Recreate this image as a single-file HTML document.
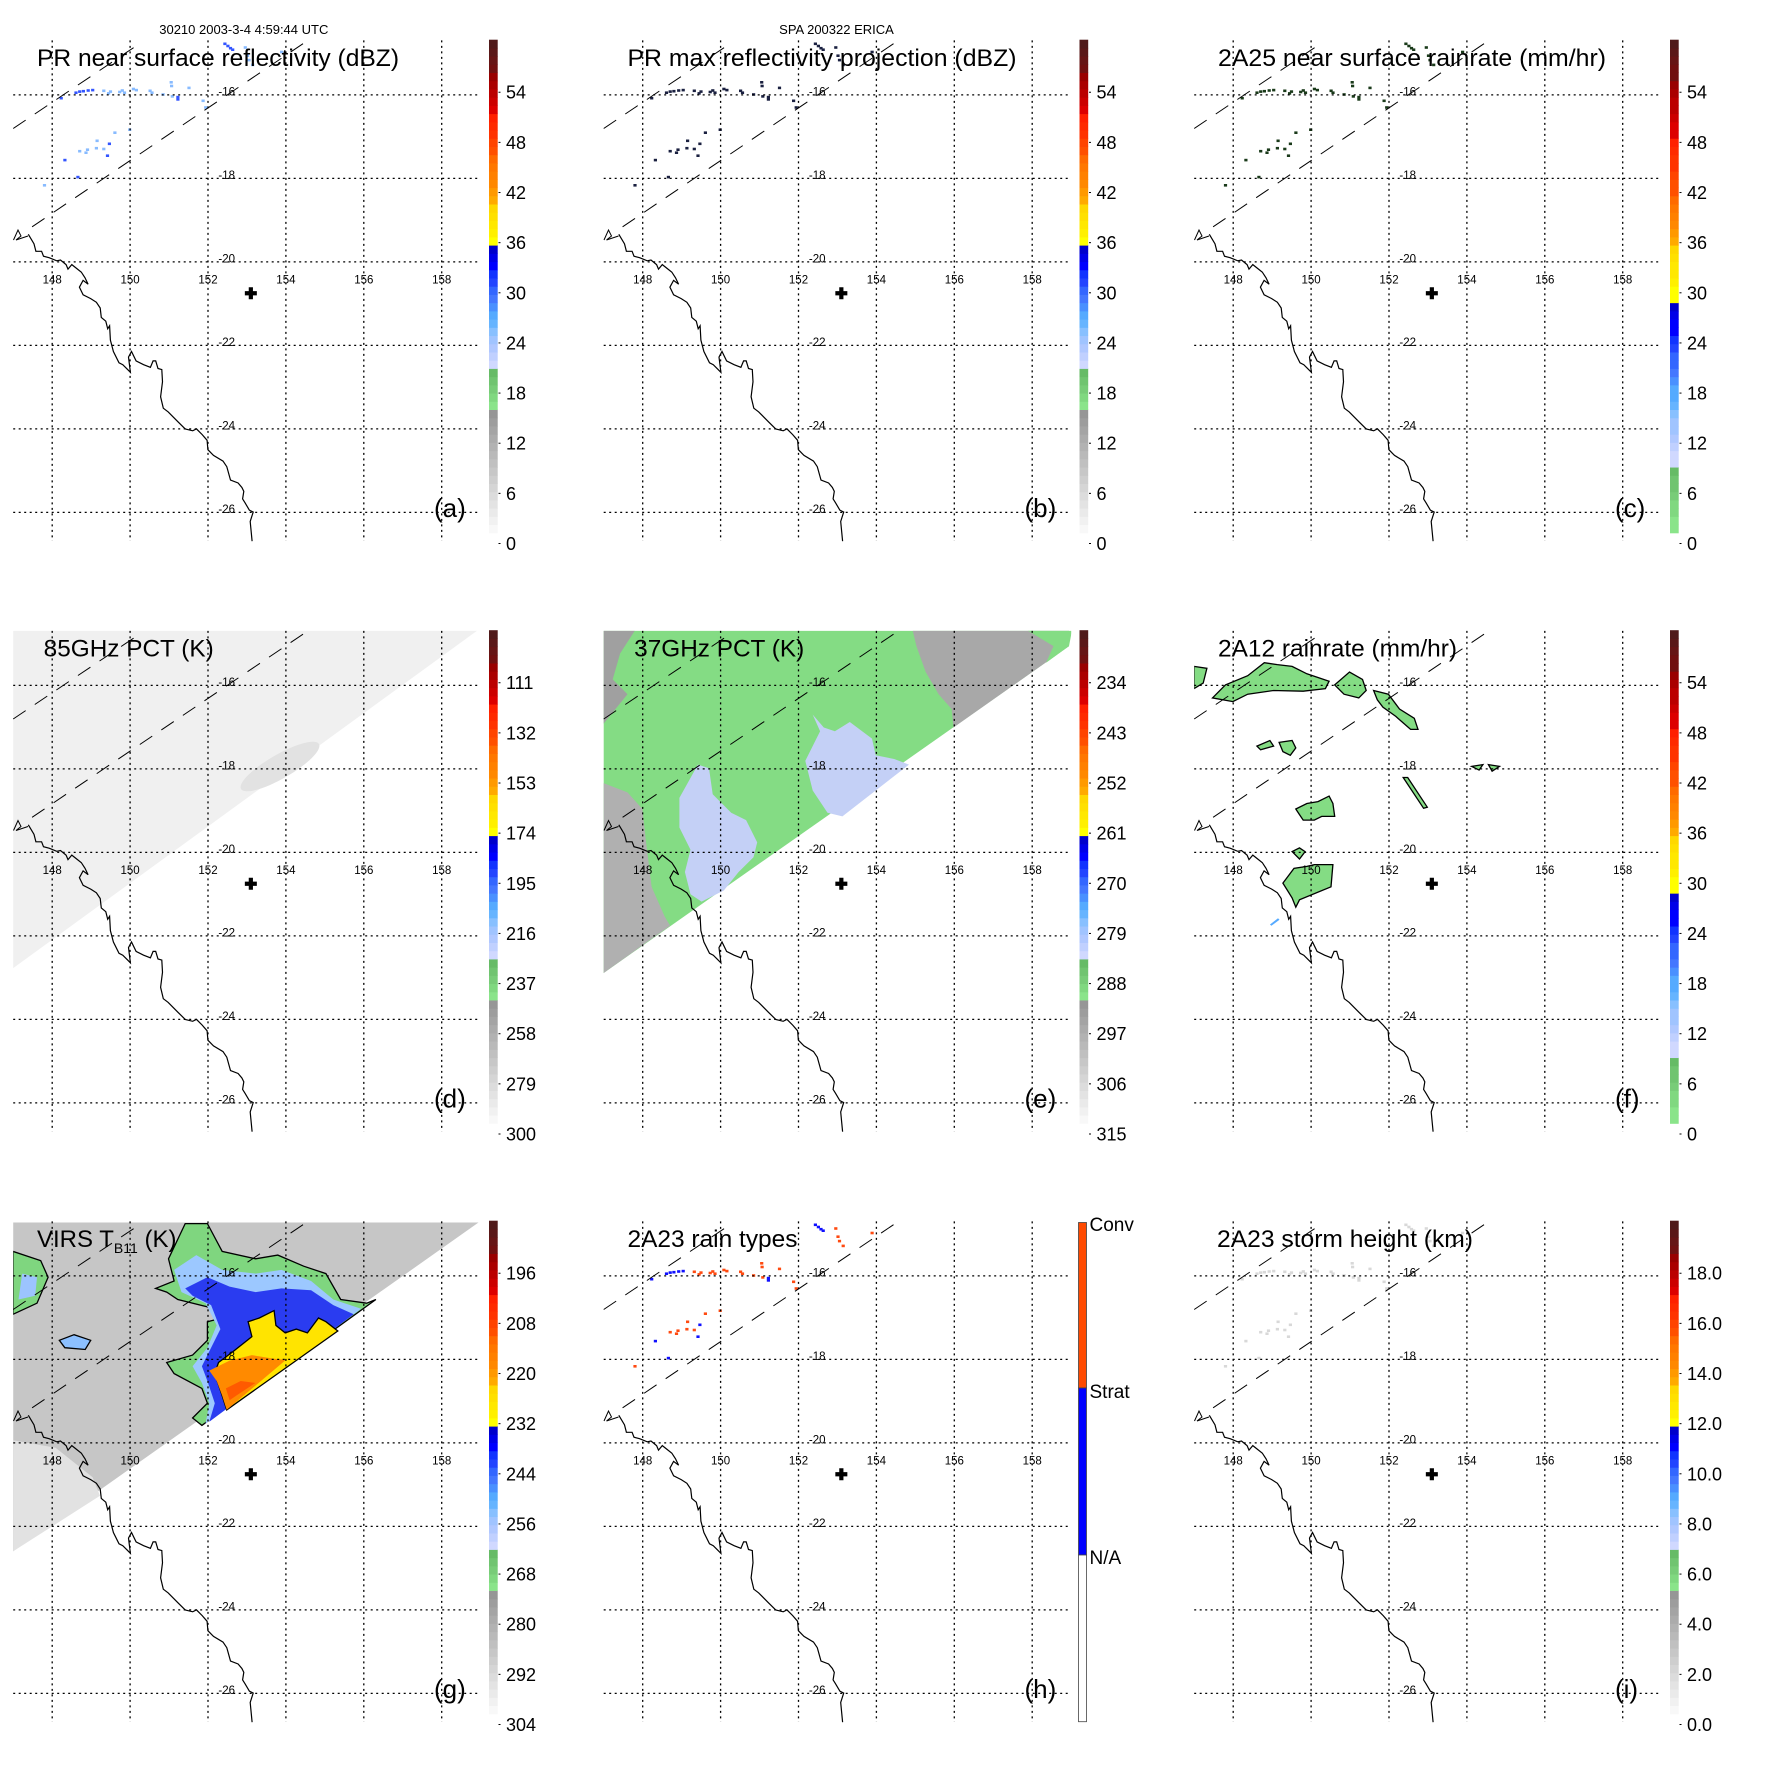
<!DOCTYPE html>
<html><head><meta charset="utf-8">
<style>
html,body{margin:0;padding:0;background:#fff;}
svg{display:block;font-family:"Liberation Sans",Arial,sans-serif;}
</style></head>
<body>
<svg id="fig" xmlns="http://www.w3.org/2000/svg" width="1771" height="1771" viewBox="0 0 1771 1771"></svg>
<script>
// ---- data arrays ----
const lonTicks = [148,150,152,154,156,158];
const latTicks = [-16,-18,-20,-22,-24,-26];
const ticksA = ['0','6','12','18','24','30','36','42','48','54'];
const ticksC = ['0','6','12','18','24','30','36','42','48','54'];
const ticksD = ['300','279','258','237','216','195','174','153','132','111'];
const ticksE = ['315','306','297','288','279','270','261','252','243','234'];
const ticksG = ['304','292','280','268','256','244','232','220','208','196'];
const ticksI = ['0.0','2.0','4.0','6.0','8.0','10.0','12.0','14.0','16.0','18.0'];
const rainTypeLabels = ['Conv','Strat','N/A'];
const stormCenter = [153.1, -20.75];

const NS='http://www.w3.org/2000/svg';
const fig=document.getElementById('fig');
const STEP=590.5;
function lx(lon){return 52.2+(lon-148)*38.95;}
function ly(lat){return 94.9+(-16-lat)*41.75;}
function mk(tag,attrs,parent){const e=document.createElementNS(NS,tag);for(const k in attrs)e.setAttribute(k,attrs[k]);(parent||fig).appendChild(e);return e;}

// palettes
const grayBand=[];for(let i=0;i<15;i++){const g=Math.round(248-i*7);grayBand.push('rgb('+g+','+g+','+g+')');}
const greenBand=['#8ae48a','#80d880','#78cc78','#70c470','#66bb66'];
const blueBand=['#d0d8ff','#c0d0ff','#b0c8ff','#a0c4ff','#88c0ff','#66b4ff','#55aaff','#4a90ff','#4477ff','#3366ff','#2244ff','#1133ff','#0000ff','#0000e8','#0000cc'];
const yelBand=['#ffff00','#fff000','#ffe800','#ffe000','#ffd800'];
const orBand=['#ffaa00','#ff9900','#ff8800','#ff8000','#ff7700','#ff6a00'];
const roBand=['#ff5000','#ff4400','#ff3300','#ff2a00','#ff2000'];
const redBand=['#dd0000','#cc0000','#bb0000','#aa0000','#990000'];
const brBand=['#701010','#661515','#5a1818','#501a1a'];
function rs(a,n){const o=[];for(let i=0;i<n;i++)o.push(a[Math.floor(i*a.length/n)]);return o;}
const palA=[].concat(grayBand,greenBand,blueBand,yelBand,orBand,roBand,redBand,brBand);
const palC=[].concat(rs(greenBand,8),rs(blueBand,20),rs(yelBand,7),rs(orBand,6),rs(roBand,7),rs(redBand,7),rs(brBand,5));

// coastline (reference units /2.646)
const coastRaw=[[75,620],[90,645],[95,665],[110,665],[115,678],[130,682],[150,690],[160,688],[175,700],[180,712],[190,700],[200,708],[215,720],[225,735],[233,752],[220,742],[210,760],[220,780],[240,790],[255,800],[265,815],[268,840],[280,850],[285,870],[290,862],[292,900],[300,930],[315,960],[325,965],[345,985],[340,945],[348,930],[360,955],[380,965],[398,972],[405,955],[412,955],[418,975],[428,978],[430,1010],[425,1050],[432,1080],[445,1090],[470,1115],[490,1135],[510,1140],[520,1135],[535,1150],[548,1165],[550,1190],[565,1205],[590,1220],[600,1235],[610,1270],[630,1278],[640,1290],[645,1300],[642,1320],[648,1330],[660,1350],[670,1355],[662,1380],[665,1410],[667,1432]];
const Z1=2.646,Z=2.70;

// dots (ref units /2.70): [x,y,type] type 0=strat-like 1=conv-like
const dots=[[607,118,0],[615,124,0],[622,130,0],[628,134,0],[662,128,1],[668,150,1],[672,162,1],[682,175,1],[760,140,1],
[165,265,0],[205,250,0],[215,247,0],[225,246,0],[238,244,0],[250,243,0],[280,245,1],[293,252,1],[298,247,1],[323,248,1],[330,244,1],[336,250,1],[360,240,1],[368,243,1],[405,245,1],[410,250,1],[440,255,1],[462,222,1],[463,232,1],[465,260,1],[480,262,0],[480,268,0],[510,237,1],[548,272,1],[555,290,1],
[350,350,1],[310,358,1],[262,380,1],[295,388,0],[215,408,1],[232,412,1],[236,404,1],[260,400,1],[280,402,1],[290,420,0],[175,432,0],[210,478,0],[120,500,1]];

const panels=[
 {k:'a',c:0,r:0,title:'PR near surface reflectivity (dBZ)',tx:37,tw:362,ticks:ticksA,pal:palA},
 {k:'b',c:1,r:0,title:'PR max reflectivity projection (dBZ)',tx:37,tw:389,ticks:ticksA,pal:palA},
 {k:'c',c:2,r:0,title:'2A25 near surface rainrate (mm/hr)',tx:37,tw:388,ticks:ticksC,pal:palC},
 {k:'d',c:0,r:1,title:'85GHz PCT (K)',tx:43.7,tw:170,ticks:ticksD,pal:palA},
 {k:'e',c:1,r:1,title:'37GHz PCT (K)',tx:43.7,tw:170,ticks:ticksE,pal:palA},
 {k:'f',c:2,r:1,title:'2A12 rainrate (mm/hr)',tx:37,tw:239,ticks:ticksC,pal:palC},
 {k:'g',c:0,r:2,title:null,ticks:ticksG,pal:palA},
 {k:'h',c:1,r:2,title:'2A23 rain types',tx:37,tw:170,ticks:null,pal:null},
 {k:'i',c:2,r:2,title:'2A23 storm height (km)',tx:36,tw:256,ticks:ticksI,pal:palA}
];

function poly(g,pts,fill,stroke,name){
  const p=mk('polygon',{points:pts.map(q=>(q[0]/Z).toFixed(1)+','+(q[1]/Z).toFixed(1)).join(' '),fill:fill,stroke:stroke||'none','stroke-width':1.3},g);
  
  
  return p;
}

panels.forEach(P=>{
  const g=mk('g',{transform:'translate('+(P.c*STEP)+','+(P.r*STEP)+')'});
  
  
  const cp=mk('clipPath',{id:'clip-'+P.k},g);
  mk('rect',{x:13.2,y:40.4,width:467.5,height:500.6},cp);
  const data=mk('g',{'clip-path':'url(#clip-'+P.k+')'},g);
  
  

  if(P.k==='d'){
    poly(data,[[35,108],[1300,108],[1300,100],[35,1020]],'#f0f0f0',null,'swath');
    const e=mk('ellipse',{cx:280,cy:176,rx:45,ry:12,fill:'#e2e2e2',transform:'rotate(-30 280 176)'},data);
    
    
  }
  if(P.k==='e'){
    poly(data,[[35,108],[1300,108],[1292,150],[35,1033]],'#84dc84',null,'swath');
    poly(data,[[870,108],[1292,108],[1292,150],[980,370],[975,320],[940,280],[905,220],[880,150]],'#a8a8a8',null,'gray-ocean-region');
    poly(data,[[1180,108],[1292,108],[1292,150],[1230,195],[1250,150]],'#84dc84',null,'green-patch');
    poly(data,[[35,520],[100,545],[140,590],[150,680],[165,800],[200,880],[215,905],[35,1033]],'#b0b0b0',null,'gray-land-region');
    poly(data,[[35,108],[120,108],[80,170],[60,240],[100,280],[35,360]],'#a0a0a0',null,'gray-nw-region');
    poly(data,[[600,335],[620,380],[580,460],[600,540],[640,600],[680,610],[860,470],[820,455],[770,445],[760,400],[700,355],[660,380],[630,370]],'#c4d0f6',null,'cold-region-1');
    poly(data,[[240,560],[290,470],[320,480],[330,550],[380,600],[420,620],[450,680],[440,720],[400,760],[360,810],[300,840],[270,820],[255,760],[270,700],[240,640]],'#c4d0f6',null,'cold-region-2');
  }
  if(P.k==='g'){
    poly(data,[[35,112],[1300,112],[1292,112],[35,1000]],'#c6c6c6',null,'swath');
    poly(data,[[35,700],[150,720],[250,800],[270,850],[35,1000]],'#e2e2e2',null,'warm-land');
    poly(data,[[35,190],[110,215],[130,260],[100,330],[35,360]],'#7fd67f','#000','cloud-nw');
    poly(data,[[60,250],[100,260],[95,310],[50,320]],'#9cc4ff',null,'cloud-nw-core');
    poly(data,[[160,430],[200,415],[245,430],[230,455],[175,450]],'#8cc0ff','#000','cloud-w');
    poly(data,[[455,210],[500,115],[560,115],[600,190],[690,210],[750,200],[820,230],[880,250],[920,320],[990,330],[1015,320],[545,660],[520,640],[560,600],[545,560],[470,520],[450,490],[520,470],[560,430],[560,380],[600,370],[560,340],[480,320],[450,300],[420,290],[470,270]],'#7fd67f','#000','cloud-green');
    poly(data,[[470,240],[530,200],[600,240],[690,250],[760,240],[840,270],[900,320],[975,345],[555,655],[565,600],[545,545],[520,500],[560,450],[585,390],[555,330],[490,300]],'#9cc8ff',null,'cloud-lightblue');
    poly(data,[[500,290],[560,260],[620,285],[690,300],[760,290],[840,295],[900,335],[955,360],[565,650],[580,600],[560,540],[545,500],[570,450],[595,400],[570,335],[520,310]],'#2a3cf0',null,'cloud-blue');
    poly(data,[[590,490],[630,460],[680,420],[670,380],[700,370],[740,350],[745,390],[770,410],[800,400],[830,410],[860,370],[880,380],[912,405],[612,618],[600,580],[580,520]],'#ffe400','#000','cloud-yellow');
    poly(data,[[565,512],[620,485],[680,470],[740,480],[772,483],[612,618],[600,580],[585,540]],'#ff8a00',null,'cloud-orange');
    poly(data,[[610,560],[650,540],[690,545],[640,578],[620,592]],'#ff5a00',null,'cloud-red');
  }
  if(P.k==='f'){
    const fs=[
      [[85,290],[120,255],[180,230],[225,195],[260,200],[300,205],[340,225],[400,245],[390,265],[330,272],[250,270],[180,280],[140,300]],
      [[35,205],[70,210],[60,250],[35,265]],
      [[415,255],[455,220],[490,240],[500,270],[480,290],[440,280]],
      [[520,270],[560,280],[590,320],[630,345],[640,375],[620,375],[580,340],[545,315],[530,295]],
      [[205,420],[240,405],[250,420],[215,430]],
      [[265,410],[300,405],[310,425],[295,445],[275,435]],
      [[310,590],[340,575],[370,570],[400,555],[410,575],[415,610],[380,610],[360,620],[330,620],[320,605]],
      [[300,705],[320,695],[335,705],[320,725]],
      [[275,790],[305,750],[340,745],[360,740],[410,740],[405,800],[320,835],[310,855],[300,830]],
      [[785,475],[815,470],[805,485]],[[830,470],[860,475],[840,488]],
      [[600,505],[612,505],[665,585],[655,588]]
    ];
    fs.forEach((s,i)=>poly(data,s,'#84dc84','#000','rain-area-'+i));
    poly(data,[[240,902],[262,885],[266,889],[244,905]],'#55aaff',null,'rain-light');
  }
  if(['a','b','c','h','i'].includes(P.k)){
    dots.forEach(d=>{
      let col;
      if(P.k==='a')col=d[2]?'#88bbff':'#3355ff';
      else if(P.k==='b')col='#1a2040';
      else if(P.k==='c')col='#1a3a1a';
      else if(P.k==='h')col=d[2]?'#ff4a10':'#1010ff';
      else col='#d8d8d8';
      const r=mk('rect',{x:(d[0]/Z-1.5).toFixed(1),y:(d[1]/Z-1.2).toFixed(1),width:3.2,height:2.6,fill:col},data);
      
      
    });
  }

  // grid
  lonTicks.forEach(v=>{
    const l=mk('line',{x1:lx(v),x2:lx(v),y1:40.4,y2:541,stroke:'#000','stroke-width':1.3,'stroke-dasharray':'2,3.5'},g);
    
    
    const t=mk('text',{x:lx(v),y:283.5,'font-size':11.5,'text-anchor':'middle',fill:'#000'},g);
    t.textContent=String(v);
    
    
  });
  latTicks.forEach(v=>{
    const l=mk('line',{x1:13.2,x2:480.7,y1:ly(v),y2:ly(v),stroke:'#000','stroke-width':1.3,'stroke-dasharray':'2,3.5'},g);
    
    
    const t=mk('text',{x:218.4,y:ly(v)+0.5,'font-size':11.5,fill:'#000'},g);
    t.textContent=String(v);
    
    
  });
  // coast
  const cst=mk('polyline',{points:coastRaw.map(q=>(q[0]/Z1).toFixed(1)+','+(q[1]/Z1).toFixed(1)).join(' '),fill:'none',stroke:'#000','stroke-width':1.2},g);
  
  
  const cx=mk('polyline',{points:'13.5,240 18,230 21,236 16,240 28,236',fill:'none',stroke:'#000','stroke-width':1},g);
  
  
  // swath dashed edges
  const d1=mk('line',{x1:13.2,y1:128.5,x2:142,y2:42,stroke:'#000','stroke-width':1,'stroke-dasharray':'15,11'},g);
  
  
  const d2=mk('line',{x1:32.1,y1:226.8,x2:307,y2:41,stroke:'#000','stroke-width':1,'stroke-dasharray':'15,11'},g);
  
  
  // storm center cross
  const sx=lx(stormCenter[0]), sy=ly(stormCenter[1]);
  const cr=mk('path',{d:'M'+(sx-6)+' '+sy+'h12M'+sx+' '+(sy-6)+'v12',stroke:'#000','stroke-width':4.2,fill:'none'},g);
  
  

  // title
  if(P.title){
    const t=mk('text',{x:P.tx,y:66.1,'font-size':24,fill:'#000',textLength:P.tw,lengthAdjust:'spacingAndGlyphs'},g);
    t.textContent=P.title;
    
    
  } else {
    const t=mk('text',{x:37,y:66.1,'font-size':24,fill:'#000'},g);
    
    
    t.appendChild(document.createTextNode('VIRS T'));
    const s=mk('tspan',{'font-size':14,dy:6},t);s.textContent='B11';
    const s2=mk('tspan',{dy:-6},t);s2.textContent=' (K)';
  }
  // panel letter
  const pl=mk('text',{x:434,y:517,'font-size':26,fill:'#000'},g);
  pl.textContent='('+P.k+')';
  
  

  // colorbar
  const cb=mk('g',{},g);
  
  
  if(P.pal){
    const top=39.7,bot=532.9,h=(bot-top)/60;
    P.pal.forEach((col,i)=>{
      const r=mk('rect',{x:489,y:(bot-(i+1)*h).toFixed(2),width:8.7,height:(h+0.4).toFixed(2),fill:col},cb);
      
      
    });
    P.ticks.forEach((lab,i)=>{
      const y=543.5-i*50.14;
      const tk=mk('line',{x1:498.5,x2:500.5,y1:y,y2:y,stroke:'#000','stroke-width':1},cb);
      
      
      const t=mk('text',{x:506,y:y+6.5,'font-size':18,fill:'#000'},cb);
      t.textContent=lab;
      
      
    });
  } else {
    const segs=[[41.5,207,'#ff4a00'],[207,374,'#0000ff'],[374,540.7,'#ffffff']];
    segs.forEach(s=>{
      const r=mk('rect',{x:488,y:s[0],width:8,height:s[1]-s[0],fill:s[2],stroke:'#444','stroke-width':0.8},cb);
      
      
    });
    [[50,rainTypeLabels[0]],[217,rainTypeLabels[1]],[383,rainTypeLabels[2]]].forEach(q=>{
      const t=mk('text',{x:499,y:q[0],'font-size':19,fill:'#000'},cb);
      t.textContent=q[1];
      
      
    });
  }
});
// headers
const h1=mk('text',{x:243.8,y:34,'font-size':13,'text-anchor':'middle',fill:'#000'});
h1.textContent='30210 2003-3-4 4:59:44 UTC';


const h2=mk('text',{x:STEP+246,y:34,'font-size':13,'text-anchor':'middle',fill:'#000'});
h2.textContent='SPA 200322 ERICA';


</script>
</body></html>
